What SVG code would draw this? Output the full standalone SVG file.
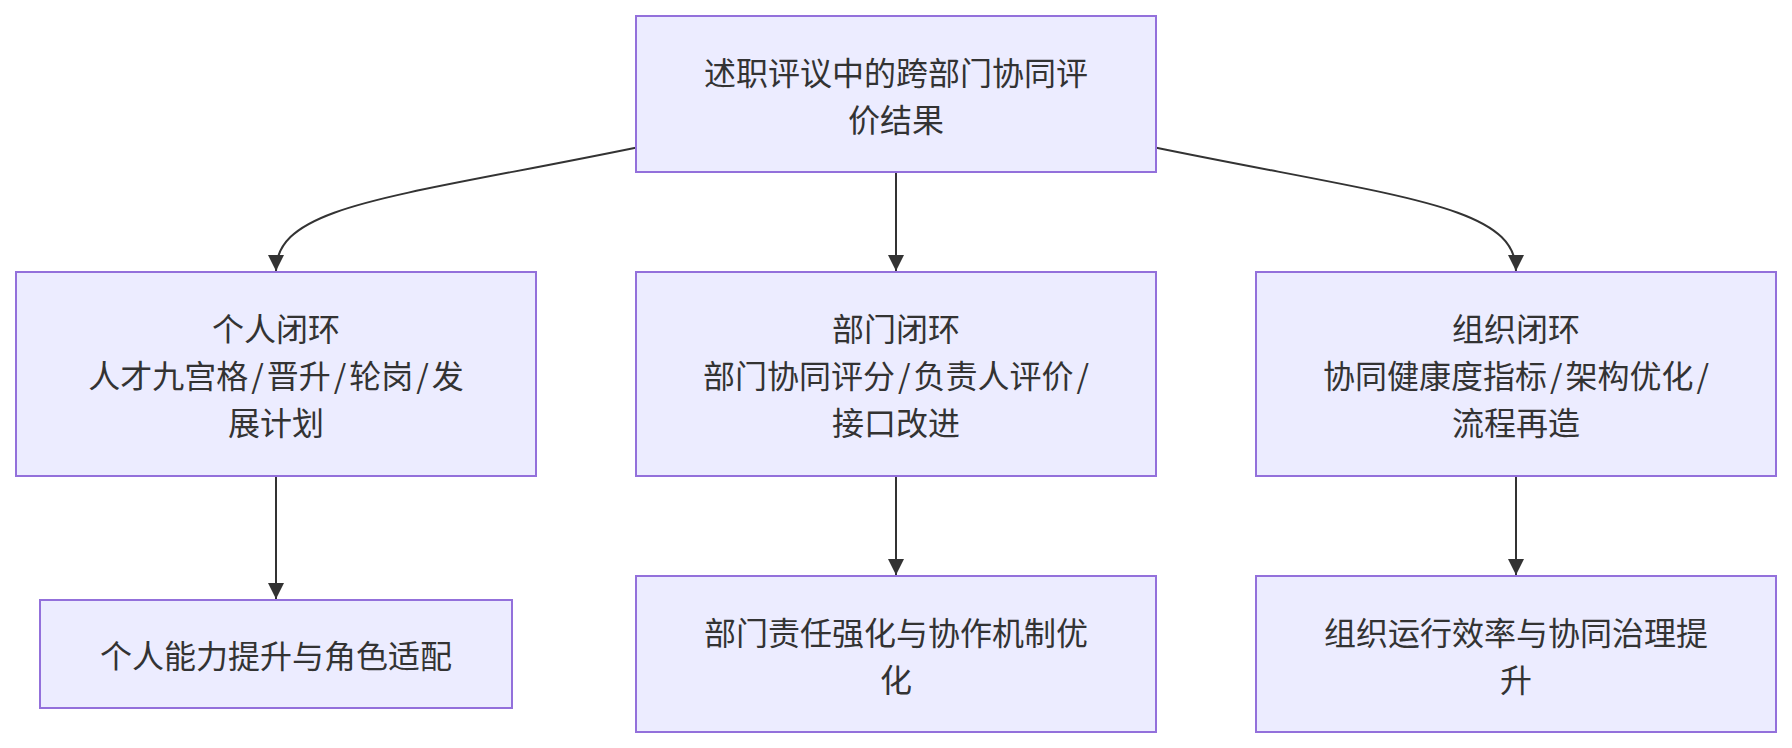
<svg xmlns="http://www.w3.org/2000/svg" width="1792" height="748" viewBox="0 0 1792 748">
  <style>
    .node rect { fill: #ECECFF; stroke: #9370DB; stroke-width: 2; }
    .node text { font-family: "Noto Sans CJK SC", "Noto Sans", sans-serif; font-size: 32px; fill: #333333; text-anchor: middle; dominant-baseline: central; }
    .edge { fill: none; stroke: #333333; stroke-width: 2; }
  </style>
  <defs>
    <marker id="arrow" markerUnits="userSpaceOnUse" markerWidth="16" markerHeight="16" refX="16" refY="8" orient="auto" viewBox="0 0 16 16">
      <path d="M0,0 L16,8 L0,16 z" fill="#333333"/>
    </marker>
  </defs>
  <rect width="1792" height="748" fill="#FFFFFF"/>
  <g id="edges">
    <path class="edge" d="M635.7,147.7 C390,198 276,205 276,271" marker-end="url(#arrow)"/>
    <path class="edge" d="M896,172 L896,271" marker-end="url(#arrow)"/>
    <path class="edge" d="M1156.3,147.7 C1402,198 1516,205 1516,271" marker-end="url(#arrow)"/>
    <path class="edge" d="M276,476 L276,599" marker-end="url(#arrow)"/>
    <path class="edge" d="M896,476 L896,575" marker-end="url(#arrow)"/>
    <path class="edge" d="M1516,476 L1516,575" marker-end="url(#arrow)"/>
  </g>
  <g id="node-top" class="node">
    <rect x="636" y="16" width="520" height="156"/>
    <text x="896" y="70.5">述职评议中的跨部门协同评</text>
    <text x="896" y="117.5">价结果</text>
  </g>
  <g id="node-personal" class="node">
    <rect x="16" y="272" width="520" height="204"/>
    <text x="276" y="327">个人闭环</text>
    <text x="276" y="374">人才九宫格<tspan dx="3">/</tspan><tspan dx="3">晋升</tspan><tspan dx="3">/</tspan><tspan dx="3">轮岗</tspan><tspan dx="3">/</tspan><tspan dx="3">发</tspan></text>
    <text x="276" y="421">展计划</text>
  </g>
  <g id="node-dept" class="node">
    <rect x="636" y="272" width="520" height="204"/>
    <text x="896" y="327">部门闭环</text>
    <text x="896" y="374">部门协同评分<tspan dx="3">/</tspan><tspan dx="3">负责人评价</tspan><tspan dx="3">/</tspan></text>
    <text x="896" y="421">接口改进</text>
  </g>
  <g id="node-org" class="node">
    <rect x="1256" y="272" width="520" height="204"/>
    <text x="1516" y="327">组织闭环</text>
    <text x="1516" y="374">协同健康度指标<tspan dx="3">/</tspan><tspan dx="3">架构优化</tspan><tspan dx="3">/</tspan></text>
    <text x="1516" y="421">流程再造</text>
  </g>
  <g id="node-personal-result" class="node">
    <rect x="40" y="600" width="472" height="108"/>
    <text x="276" y="654">个人能力提升与角色适配</text>
  </g>
  <g id="node-dept-result" class="node">
    <rect x="636" y="576" width="520" height="156"/>
    <text x="896" y="630.5">部门责任强化与协作机制优</text>
    <text x="896" y="677.5">化</text>
  </g>
  <g id="node-org-result" class="node">
    <rect x="1256" y="576" width="520" height="156"/>
    <text x="1516" y="630.5">组织运行效率与协同治理提</text>
    <text x="1516" y="677.5">升</text>
  </g>
</svg>
